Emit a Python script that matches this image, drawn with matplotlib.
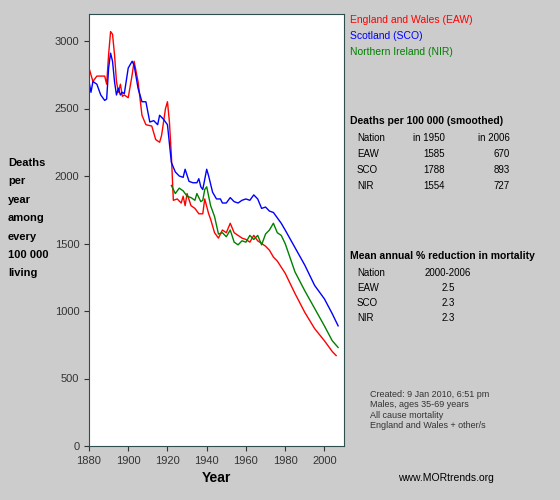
import matplotlib.pyplot as plt

plt.rcParams['font.family'] = ['Liberation Sans', 'DejaVu Sans']

# England and Wales
eaw_year = [1880, 1882, 1884, 1886, 1888, 1889, 1890, 1891, 1892, 1893, 1894, 1895, 1896, 1897, 1898, 1900,
            1902, 1903, 1905, 1907, 1909, 1912, 1914, 1916, 1917, 1919, 1920, 1921, 1922, 1923, 1925, 1927,
            1928, 1929, 1930, 1932, 1934, 1936, 1938, 1939, 1941, 1942, 1944, 1946, 1948, 1949, 1950, 1952,
            1954, 1956, 1958, 1960, 1962, 1964, 1966, 1968, 1970, 1972, 1974, 1976, 1980, 1985, 1990, 1995,
            2000, 2004, 2006]
eaw_val = [2800, 2700, 2740, 2740, 2740, 2680, 2900, 3070, 3050, 2900, 2700, 2620, 2680, 2590, 2600, 2580,
           2750, 2850, 2700, 2450, 2380, 2370, 2270, 2250, 2300, 2500, 2550, 2400, 2150, 1820, 1830, 1800,
           1850, 1780, 1870, 1780, 1760, 1720, 1720, 1830, 1720, 1680, 1580, 1540, 1600, 1590, 1580, 1650,
           1580, 1560, 1540, 1530, 1510, 1560, 1520, 1500, 1480, 1450, 1400, 1370, 1280, 1130, 990, 870,
           780, 700, 670]

# Scotland
sco_year = [1880, 1881, 1882, 1884, 1886, 1888, 1889, 1890, 1891, 1892, 1893, 1894, 1895, 1896, 1897, 1898,
            1900, 1902, 1903, 1905, 1907, 1909, 1911, 1913, 1915, 1916, 1918, 1920, 1922, 1924, 1926, 1928,
            1929, 1931, 1933, 1935, 1936, 1937, 1938, 1940, 1941, 1943, 1945, 1947, 1948, 1950, 1952, 1954,
            1956, 1958, 1960, 1962, 1964, 1966, 1968, 1970, 1972, 1974, 1976, 1978, 1980, 1985, 1990, 1995,
            2000, 2004, 2007]
sco_val = [2700, 2620, 2700, 2680, 2600, 2560, 2570, 2800, 2910, 2850, 2700, 2600, 2650, 2600, 2620, 2610,
           2800, 2850, 2820, 2650, 2550, 2550, 2400, 2410, 2380, 2450, 2420, 2380, 2100, 2030, 2000, 1990,
           2050, 1960, 1950, 1950, 1980, 1920, 1900, 2050, 2000, 1880, 1830, 1830, 1800, 1800, 1840, 1810,
           1800, 1820, 1830, 1820, 1860, 1830, 1760, 1770, 1740, 1730, 1690, 1650, 1600, 1470, 1340, 1190,
           1090, 980, 890]

# Northern Ireland
nir_year = [1922, 1924, 1926, 1928, 1930, 1932, 1934, 1935, 1937, 1938, 1939, 1940, 1942, 1944, 1946, 1948,
            1950, 1952, 1954, 1956, 1958, 1960, 1962, 1964, 1966, 1968, 1970, 1972, 1974, 1976, 1978, 1980,
            1985, 1990, 1995, 2000, 2004, 2007]
nir_val = [1930, 1870, 1910, 1890, 1850, 1840, 1820, 1870, 1810, 1820, 1900, 1920, 1780, 1700, 1570, 1580,
           1550, 1600, 1510, 1490, 1520, 1510, 1560, 1530, 1560, 1490, 1570, 1600, 1650, 1580, 1560, 1500,
           1290, 1150, 1020, 890, 780, 730]

bg = '#cccccc'
fig = plt.figure(figsize=(5.6, 5.0), dpi=100, facecolor=bg)
ax = fig.add_axes([89/560, 54/500, 255/560, 432/500])
ax.plot(eaw_year, eaw_val, color='red', lw=1)
ax.plot(sco_year, sco_val, color='blue', lw=1)
ax.plot(nir_year, nir_val, color='green', lw=1)
ax.set_xlim(1880, 2010)
ax.set_ylim(0, 3200)
ax.set_xticks(range(1880, 2001, 20))
ax.set_yticks(range(0, 3001, 500))
ax.tick_params(labelsize=8, colors='#333333', direction='out')
for s in ax.spines.values():
    s.set_color('#2f4f4f')
ax.set_xlabel('Year', fontsize=10, fontweight='bold')

fig.text(8/560, 1 - 158/500, 'Deaths\nper\nyear\namong\nevery\n100 000\nliving',
         fontsize=8, fontweight='bold', va='top', linespacing=2.05)

fig.text(350/560, 1 - 20/500, 'England and Wales (EAW)', color='red', fontsize=7.5, va='center')
fig.text(350/560, 1 - 36/500, 'Scotland (SCO)', color='blue', fontsize=7.5, va='center')
fig.text(350/560, 1 - 52/500, 'Northern Ireland (NIR)', color='green', fontsize=7.5, va='center')

fig.text(350/560, 1 - 121/500, 'Deaths per 100 000 (smoothed)', fontsize=7.5, fontweight='bold', va='center')
rows = [('Nation', 'in 1950', 'in 2006'), ('EAW', '1585', '670'), ('SCO', '1788', '893'), ('NIR', '1554', '727')]
for i, (a, b, c) in enumerate(rows):
    y = 1 - (138 + 16 * i) / 500
    fig.text(357/560, y, a, fontsize=7, va='center')
    fig.text(445/560, y, b, fontsize=7, va='center', ha='right')
    fig.text(510/560, y, c, fontsize=7, va='center', ha='right')

fig.text(350/560, 1 - 256/500, 'Mean annual % reduction in mortality', fontsize=7.5, fontweight='bold', va='center')
rows2 = [('Nation', '2000-2006'), ('EAW', '2.5'), ('SCO', '2.3'), ('NIR', '2.3')]
for i, (a, b) in enumerate(rows2):
    y = 1 - (273 + 15 * i) / 500
    fig.text(357/560, y, a, fontsize=7, va='center')
    fig.text(448/560, y, b, fontsize=7, va='center', ha='center')

fig.text(370/560, 1 - 390/500, 'Created: 9 Jan 2010, 6:51 pm\nMales, ages 35-69 years\nAll cause mortality\nEngland and Wales + other/s',
         fontsize=6.5, va='top', color='#333333', linespacing=1.2)
fig.text(398/560, 1 - 478/500, 'www.MORtrends.org', fontsize=7.5, va='center')

fig.savefig('out.png', dpi=100, facecolor=bg)
